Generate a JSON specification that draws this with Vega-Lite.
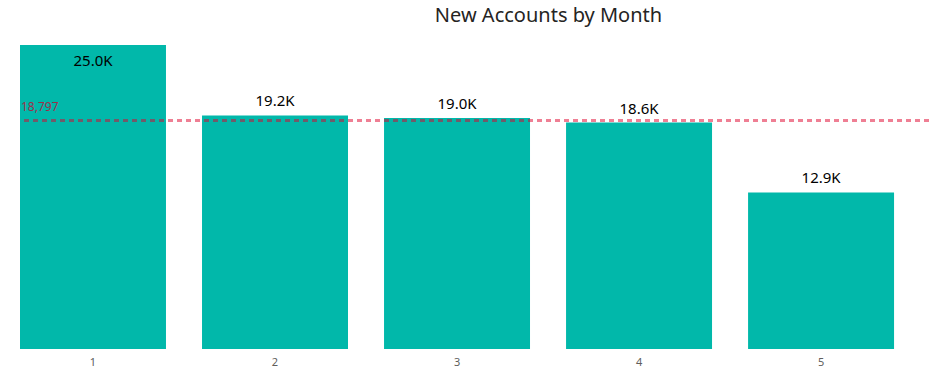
{
  "$schema": "https://vega.github.io/schema/vega-lite/v6.json",
  "autosize": "none",
  "width": 909,
  "height": 304,
  "padding": {"left": 20, "top": 45, "right": 0, "bottom": 32},
  "background": "white",
  "config": {"view": {"stroke": null}, "font": "Noto Sans"},
  "title": {
    "text": "New Accounts by Month",
    "fontSize": 20,
    "fontWeight": "normal",
    "color": "#252423",
    "font": "Noto Sans",
    "anchor": "middle",
    "dx": 74,
    "offset": 19
  },
  "datasets": {
    "months": [
      {"month": 1, "accounts": 24990},
      {"month": 2, "accounts": 19210},
      {"month": 3, "accounts": 18990},
      {"month": 4, "accounts": 18620},
      {"month": 5, "accounts": 12880}
    ],
    "avg": [{"month": 1, "average": 18797}]
  },
  "data": {"name": "months"},
  "transform": [{"calculate": "format(datum.accounts / 1000, '.1f') + 'K'", "as": "label"}],
  "layer": [
    {
      "mark": {"type": "bar", "color": "#01B8AA"},
      "encoding": {
        "x": {
          "field": "month", "type": "ordinal",
          "scale": {"paddingInner": 0.198, "paddingOuter": 0.096, "align": 0},
          "axis": {"title": null, "domain": false, "ticks": false, "labelAngle": 0, "labelColor": "#605E5C", "labelFontSize": 11, "labelPadding": 7, "labelFont": "Noto Sans"}
        },
        "y": {"field": "accounts", "type": "quantitative", "scale": {"domain": [0, 25000], "nice": false}, "axis": null}
      }
    },
    {
      "transform": [{"filter": "datum.accounts >= 24000"}],
      "mark": {"type": "text", "baseline": "top", "dy": 9, "fontSize": 15, "color": "#000000"},
      "encoding": {
        "x": {"field": "month", "type": "ordinal"},
        "y": {"field": "accounts", "type": "quantitative"},
        "text": {"field": "label", "type": "nominal"}
      }
    },
    {
      "transform": [{"filter": "datum.accounts < 24000"}],
      "mark": {"type": "text", "baseline": "bottom", "dy": -6, "fontSize": 15, "color": "#000000"},
      "encoding": {
        "x": {"field": "month", "type": "ordinal"},
        "y": {"field": "accounts", "type": "quantitative"},
        "text": {"field": "label", "type": "nominal"}
      }
    },
    {
      "data": {"name": "avg"},
      "mark": {"type": "rule", "color": "#E0002A", "opacity": 0.5, "strokeWidth": 3, "strokeDash": [5, 4]},
      "encoding": {
        "y": {"field": "average", "type": "quantitative"}
      }
    },
    {
      "data": {"name": "avg"},
      "mark": {"type": "text", "align": "left", "baseline": "bottom", "dx": 1, "dy": -6, "fontSize": 12, "color": "#D0002A", "opacity": 0.75},
      "encoding": {
        "x": {"field": "month", "type": "ordinal", "bandPosition": 0},
        "y": {"field": "average", "type": "quantitative"},
        "text": {"field": "average", "type": "quantitative", "format": ","}
      }
    }
  ]
}
